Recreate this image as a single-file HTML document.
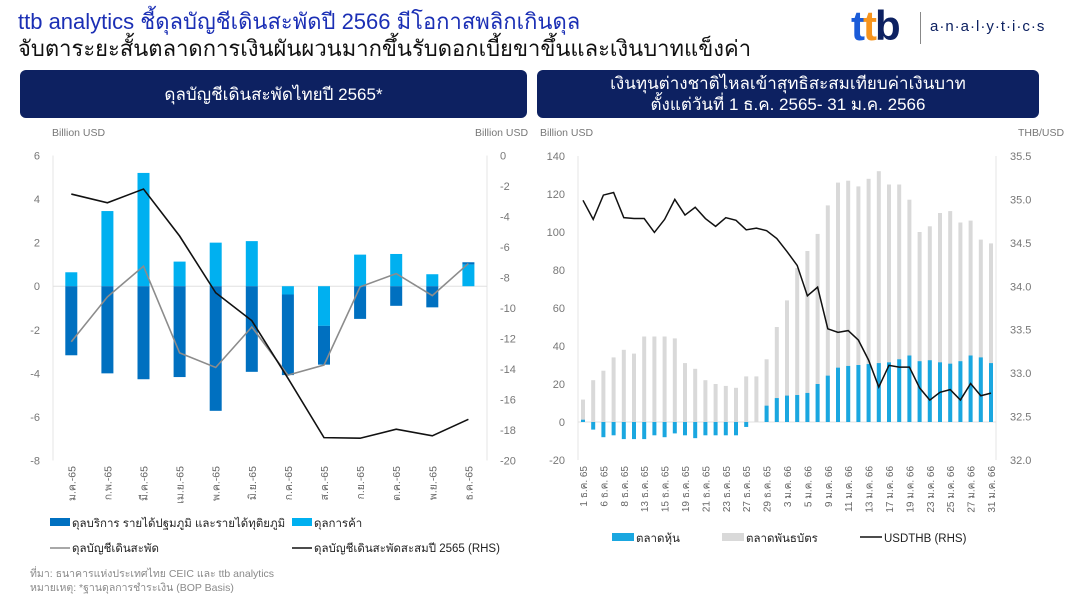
<!DOCTYPE html>
<html><head><meta charset="utf-8">
<style>
body{margin:0;width:1073px;height:599px;background:#fff;overflow:hidden;font-family:"Liberation Sans","Noto Sans CJK SC",sans-serif;position:relative}
.t1{position:absolute;left:18px;top:4px;font-size:22px;color:#1b2fb5;font-family:"Liberation Sans","Noto Sans CJK SC",sans-serif;white-space:nowrap}
.t2{position:absolute;left:18px;top:31px;font-size:22px;color:#111;white-space:nowrap}
.hdr{position:absolute;background:#0d2161;color:#fff;border-radius:6px;text-align:center;font-size:17px;display:flex;align-items:center;justify-content:center;line-height:21px}
.logo{position:absolute;left:851px;top:2px;font-size:42px;font-weight:bold;letter-spacing:-2px}
.foot{position:absolute;left:30px;font-size:10.5px;color:#8a8a8a}
svg{position:absolute;left:0;top:0}
</style></head><body>
<div class="t1">ttb analytics ชี้ดุลบัญชีเดินสะพัดปี 2566 มีโอกาสพลิกเกินดุล</div>
<div class="t2">จับตาระยะสั้นตลาดการเงินผันผวนมากขึ้นรับดอกเบี้ยขาขึ้นและเงินบาทแข็งค่า</div>
<div class="logo"><span style="color:#1a5bd8">t</span><span style="color:#f7941d">t</span><span style="color:#0d2161">b</span></div>
<div style="position:absolute;left:920px;top:12px;width:1px;height:32px;background:#888"></div>
<div style="position:absolute;left:930px;top:18px;font-size:15px;color:#0d2161;letter-spacing:1px">a·n·a·l·y·t·i·c·s</div>
<div class="hdr" style="left:20px;top:70px;width:507px;height:48px">ดุลบัญชีเดินสะพัดไทยปี 2565*</div>
<div class="hdr" style="left:537px;top:70px;width:502px;height:48px">เงินทุนต่างชาติไหลเข้าสุทธิสะสมเทียบค่าเงินบาท<br>ตั้งแต่วันที่ 1 ธ.ค. 2565- 31 ม.ค. 2566</div>
<div class="foot" style="top:565px">ที่มา: ธนาคารแห่งประเทศไทย CEIC และ ttb analytics</div>
<div class="foot" style="top:579px">หมายเหตุ: *ฐานดุลการชำระเงิน (BOP Basis)</div>
<svg id="s" width="1073" height="599" xmlns="http://www.w3.org/2000/svg"></svg>
<script>
// Left chart data
const months=["ม.ค.-65","ก.พ.-65","มี.ค.-65","เม.ย.-65","พ.ค.-65","มิ.ย.-65","ก.ค.-65","ส.ค.-65","ก.ย.-65","ต.ค.-65","พ.ย.-65","ธ.ค.-65"];
const tradeBal=[0.64,3.45,5.2,1.13,2.0,2.07,-0.38,-1.82,1.45,1.48,0.55,1.0];
const servIncome=[-3.17,-4.0,-4.27,-4.17,-5.72,-3.93,-3.7,-1.78,-1.5,-0.9,-0.97,0.1];
const currAcct=[-2.55,-0.49,0.92,-3.06,-3.73,-1.87,-4.08,-3.62,-0.03,0.58,-0.43,1.04];
const cumCA=[-2.53,-3.1,-2.2,-5.28,-9.0,-10.83,-14.6,-18.5,-18.54,-17.95,-18.38,-17.3];
const leftTicks=[6,4,2,0,-2,-4,-6,-8];
const rightTicksL=[0,-2,-4,-6,-8,-10,-12,-14,-16,-18,-20];
// Right chart data
const dates=["1 ธ.ค. 65","6 ธ.ค. 65","8 ธ.ค. 65","13 ธ.ค. 65","15 ธ.ค. 65","19 ธ.ค. 65","21 ธ.ค. 65","23 ธ.ค. 65","27 ธ.ค. 65","29 ธ.ค. 65","3 ม.ค. 66","5 ม.ค. 66","9 ม.ค. 66","11 ม.ค. 66","13 ม.ค. 66","17 ม.ค. 66","19 ม.ค. 66","23 ม.ค. 66","25 ม.ค. 66","27 ม.ค. 66","31 ม.ค. 66"];
const bonds=[11.8,22,27,34,38,36,45,45,45,44,31,28,22,20,19,18,24,24,33,50,64,81,90,99,114,126,127,124,128,132,125,125,117,100,103,110,111,105,106,96,94];
const equity=[1.2,-4,-8,-7,-9,-9,-9,-7,-8,-6,-7,-8.5,-7,-7,-7,-7,-2.6,0,8.6,12.6,13.9,14.2,15.3,20,24.4,28.6,29.5,30,30.5,31,31.4,33,35,32,32.5,31.4,30.7,32,35,34,31];
const usdthb=[34.99,34.77,35.05,35.08,34.79,34.78,34.78,34.62,34.77,35.0,34.82,34.91,34.78,34.69,34.79,34.76,34.65,34.67,34.64,34.55,34.40,34.24,33.89,33.99,33.51,33.47,33.49,33.38,33.15,32.84,33.09,33.07,33.07,32.83,32.69,32.78,32.81,32.69,32.88,32.74,32.77];
const rTicksL=[140,120,100,80,60,40,20,0,-20];
const rTicksR=["35.5","35.0","34.5","34.0","33.5","33.0","32.5","32.0"];

const s=document.getElementById('s');
const NS="http://www.w3.org/2000/svg";
function mk(t,a,txt){const e=document.createElementNS(NS,t);for(const k in a)e.setAttribute(k,a[k]);if(txt!==undefined)e.textContent=txt;s.appendChild(e);return e;}
const F='"Liberation Sans","Noto Sans CJK SC",sans-serif';

// ---- Left chart ----
const LX0=53,LX1=487,LT=155.5,LB=460.5;
const ly=v=>LT+(6-v)/14*(LB-LT);
const lyR=v=>LT+(0-v)/20*(LB-LT);
const lx=i=>71.3+i*36.1;
let e;
e=mk('line',{x1:LX0,y1:LT,x2:LX0,y2:LB,stroke:'#e6e6e6'});

e=mk('line',{x1:LX1,y1:LT,x2:LX1,y2:LB,stroke:'#e6e6e6'});

e=mk('line',{x1:LX0,y1:ly(0),x2:LX1,y2:ly(0),stroke:'#e0e0e0'});

leftTicks.forEach(v=>{e=mk('text',{x:40,y:ly(v)+4,'text-anchor':'end','font-size':11,fill:'#777','font-family':F},String(v));
});
rightTicksL.forEach(v=>{e=mk('text',{x:500,y:lyR(v)+4,'text-anchor':'start','font-size':11,fill:'#777','font-family':F},String(v));
});
e=mk('text',{x:52,y:136,'font-size':10.5,fill:'#777','font-family':F},'Billion USD');

e=mk('text',{x:475,y:136,'font-size':10.5,fill:'#777','font-family':F},'Billion USD');

const bw=12;
months.forEach((m,i)=>{
  const t=tradeBal[i],sv=servIncome[i];
  let pos=0,neg=0;
  let y0,y1;
  if(t>=0){y0=ly(t);y1=ly(0);pos=t;}else{y0=ly(0);y1=ly(t);neg=t;}
  e=mk('rect',{x:lx(i)-bw/2,y:y0,width:bw,height:y1-y0,fill:'#00b0f0'});
  
  if(sv>=0){y0=ly(pos+sv);y1=ly(pos);}else{y0=ly(neg);y1=ly(neg+sv);}
  e=mk('rect',{x:lx(i)-bw/2,y:y0,width:bw,height:y1-y0,fill:'#0070c0'});
  
  e=mk('text',{x:0,y:0,'font-size':10.5,fill:'#666','font-family':F,'text-anchor':'end',transform:`translate(${lx(i)+4},466) rotate(-90)`},m);
  
});
e=mk('polyline',{points:currAcct.map((v,i)=>lx(i)+','+ly(v)).join(' '),fill:'none',stroke:'#8c8c8c','stroke-width':1.6});

e=mk('polyline',{points:cumCA.map((v,i)=>lx(i)+','+lyR(v)).join(' '),fill:'none',stroke:'#111','stroke-width':1.6});

e=mk('rect',{x:50,y:518,width:20,height:8,fill:'#0070c0'});

e=mk('text',{x:72,y:527,'font-size':11.5,fill:'#222','font-family':F},'ดุลบริการ รายได้ปฐมภูมิ และรายได้ทุติยภูมิ');

e=mk('rect',{x:292,y:518,width:20,height:8,fill:'#00b0f0'});

e=mk('text',{x:314,y:527,'font-size':11.5,fill:'#222','font-family':F},'ดุลการค้า');

e=mk('line',{x1:50,y1:548,x2:70,y2:548,stroke:'#8c8c8c','stroke-width':1.6});

e=mk('text',{x:72,y:552,'font-size':11.5,fill:'#222','font-family':F},'ดุลบัญชีเดินสะพัด');

e=mk('line',{x1:292,y1:548,x2:312,y2:548,stroke:'#111','stroke-width':1.6});

e=mk('text',{x:314,y:552,'font-size':11.5,fill:'#222','font-family':F},'ดุลบัญชีเดินสะพัดสะสมปี 2565 (RHS)');


// ---- Right chart ----
const RX0=578,RX1=996,RT=156,RB=460;
const ry=v=>RT+(140-v)/160*(RB-RT);
const ryR=v=>RT+(35.5-v)/3.5*(RB-RT);
const rx=i=>583+i*10.2;
e=mk('line',{x1:RX0,y1:RT,x2:RX0,y2:RB,stroke:'#e6e6e6'});

e=mk('line',{x1:RX1,y1:RT,x2:RX1,y2:RB,stroke:'#e6e6e6'});

e=mk('line',{x1:RX0,y1:ry(0),x2:RX1,y2:ry(0),stroke:'#e0e0e0'});

rTicksL.forEach(v=>{e=mk('text',{x:565,y:ry(v)+4,'text-anchor':'end','font-size':11,fill:'#777','font-family':F},String(v));
});
rTicksR.forEach(v=>{e=mk('text',{x:1010,y:ryR(parseFloat(v))+4,'font-size':11,fill:'#777','font-family':F},v);
});
e=mk('text',{x:540,y:136,'font-size':10.5,fill:'#777','font-family':F},'Billion USD');

e=mk('text',{x:1018,y:136,'font-size':10.5,fill:'#777','font-family':F},'THB/USD');

const rbw=4;
bonds.forEach((v,i)=>{
  e=mk('rect',{x:rx(i)-rbw/2,y:ry(Math.max(v,0)),width:rbw,height:Math.abs(ry(v)-ry(0)),fill:'#d9d9d9'});
  
});
equity.forEach((v,i)=>{
  e=mk('rect',{x:rx(i)-rbw/2,y:ry(Math.max(v,0)),width:rbw,height:Math.abs(ry(v)-ry(0)),fill:'#1aa7e0'});
  
});
e=mk('polyline',{points:usdthb.map((v,i)=>rx(i)+','+ryR(v)).join(' '),fill:'none',stroke:'#111','stroke-width':1.5});

dates.forEach((d,k)=>{
  e=mk('text',{x:0,y:0,'font-size':10,fill:'#666','font-family':F,'text-anchor':'end',transform:`translate(${rx(k*2)+4},466) rotate(-90)`},d);
  
});
e=mk('rect',{x:612,y:533,width:22,height:8,fill:'#1aa7e0'});

e=mk('text',{x:636,y:542,'font-size':11.5,fill:'#222','font-family':F},'ตลาดหุ้น');

e=mk('rect',{x:722,y:533,width:22,height:8,fill:'#d9d9d9'});

e=mk('text',{x:746,y:542,'font-size':11.5,fill:'#222','font-family':F},'ตลาดพันธบัตร');

e=mk('line',{x1:860,y1:537,x2:882,y2:537,stroke:'#111','stroke-width':1.5});

e=mk('text',{x:884,y:542,'font-size':11.5,fill:'#222','font-family':F},'USDTHB (RHS)');

</script>
</body></html>
